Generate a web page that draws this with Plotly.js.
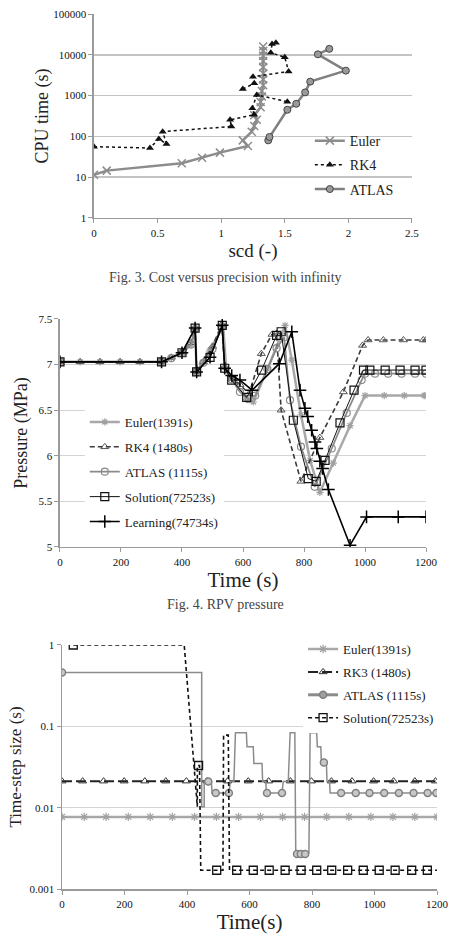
<!DOCTYPE html>
<html><head><meta charset="utf-8">
<script src="https://cdn.plot.ly/plotly-3.0.1.min.js"></script>
<style>html,body{margin:0;padding:0;background:#fff;}#chart{width:451px;height:936px;}</style>
</head><body><div id="chart"></div>
<script>
// ---------- Fig. 3 : cost versus precision ----------
const f3EulerScd = [0, 0.1, 0.69, 0.85, 0.99, 1.21, 1.17, 1.24, 1.26, 1.28, 1.26, 1.31, 1.31, 1.32, 1.32, 1.33, 1.33, 1.33, 1.33, 1.33, 1.33, 1.33, 1.33];
const f3EulerCpu = [11.5, 14.5, 22, 30, 40, 58, 80, 130, 180, 255, 330, 520, 700, 950, 1300, 1800, 2500, 3500, 5000, 7000, 9500, 12500, 16000];
const f3Rk4Scd = [0, 0.44, 0.51, 0.57, 0.54, 1.08, 1.07, 1.26, 1.245, 1.28, 1.52, null, 1.17, 1.26, 1.25, 1.53, 1.50, 1.39, 1.40, 1.43];
const f3Rk4Cpu = [56, 52, 87, 65, 131, 175, 255, 340, 490, 1040, 710, null, 1450, 2000, 2900, 3900, 8700, 11300, 18500, 19800];
const f3AtlasScd = [1.37, 1.38, 1.52, 1.59, 1.66, 1.70, 1.98, 1.76, 1.85];
const f3AtlasCpu = [80, 97, 450, 630, 1200, 2200, 4100, 10300, 14000];
const f3YTicks = [1, 10, 100, 1000, 10000, 100000];
const f3YTickText = ['1', '10', '100', '1000', '10000', '100000'];
const f3Names = ['Euler', 'RK4', 'ATLAS'];

// ---------- Fig. 4 : RPV pressure ----------
const f4EulerT = [0, 66, 131, 197, 262, 333, 365, 400, 430, 443, 448, 490, 535, 545, 563, 612, 634, 680, 738, 760, 790, 820, 852, 896, 951, 1000, 1063, 1129, 1194, 1200];
const f4EulerP = [7.03, 7.03, 7.03, 7.03, 7.03, 7.03, 7.07, 7.13, 7.22, 7.38, 6.92, 7.15, 7.42, 6.95, 6.85, 6.62, 6.59, 6.95, 7.43, 7.05, 6.45, 5.95, 5.60, 5.92, 6.33, 6.66, 6.66, 6.66, 6.66, 6.66];
const f4Rk4T = [0, 66, 131, 197, 262, 333, 365, 400, 430, 443, 448, 470, 500, 530, 540, 563, 590, 620, 660, 695, 710, 725, 790, 852, 929, 992, 1010, 1060, 1126, 1191, 1200];
const f4Rk4P = [7.03, 7.03, 7.03, 7.03, 7.03, 7.03, 7.08, 7.14, 7.24, 7.40, 6.92, 7.03, 7.20, 7.44, 6.97, 6.85, 6.78, 6.68, 7.12, 7.33, 7.34, 6.50, 5.72, 6.20, 6.70, 7.21, 7.27, 7.27, 7.27, 7.27, 7.27];
const f4AtlasT = [0, 333, 365, 400, 430, 443, 448, 470, 500, 532, 540, 563, 590, 618, 640, 680, 710, 735, 754, 790, 835, 891, 940, 989, 1000, 1033, 1076, 1120, 1164, 1200];
const f4AtlasP = [7.03, 7.03, 7.07, 7.13, 7.22, 7.39, 6.92, 7.02, 7.17, 7.42, 6.95, 6.84, 6.70, 6.62, 6.66, 6.95, 7.18, 7.30, 6.61, 6.10, 5.66, 6.08, 6.47, 6.83, 6.90, 6.90, 6.90, 6.90, 6.90, 6.90];
const f4SolT = [0, 333, 400, 443, 448, 492, 532, 540, 563, 612, 661, 710, 725, 765, 814, 840, 869, 918, 964, 995, 1016, 1066, 1115, 1164, 1200];
const f4SolP = [7.03, 7.03, 7.13, 7.40, 6.92, 7.08, 7.43, 6.96, 6.83, 6.64, 6.94, 7.32, 7.36, 6.39, 5.75, 5.72, 5.95, 6.36, 6.72, 6.94, 6.94, 6.94, 6.94, 6.94, 6.94];
const f4LearnT = [0, 333, 400, 443, 448, 492, 532, 540, 563, 590, 630, 719, 760, 787, 803, 812, 825, 836, 842, 852, 861, 880, 951, 1005, 1109, 1200];
const f4LearnP = [7.03, 7.03, 7.13, 7.40, 6.92, 7.08, 7.43, 6.96, 6.88, 6.83, 6.72, 7.01, 7.36, 6.72, 6.52, 6.43, 6.28, 6.15, 6.08, 5.94, 5.86, 5.63, 5.02, 5.33, 5.33, 5.33];
const f4Names = ['Euler(1391s)', 'RK4 (1480s)', 'ATLAS (1115s)', 'Solution(72523s)', 'Learning(74734s)'];

// ---------- Fig. 5 : time-step size ----------
const f5EulerT = [0, 71, 141, 212, 282, 353, 424, 494, 565, 635, 706, 776, 847, 918, 988, 1059, 1129, 1200];
const f5EulerDt = [0.0077, 0.0077, 0.0077, 0.0077, 0.0077, 0.0077, 0.0077, 0.0077, 0.0077, 0.0077, 0.0077, 0.0077, 0.0077, 0.0077, 0.0077, 0.0077, 0.0077, 0.0077];
const f5Rk3T = [0, 66, 133, 199, 265, 332, 398, 464, 530, 596, 661, 731, 798, 862, 928, 997, 1061, 1129, 1195];
const f5Rk3Dt = [0.0212, 0.0212, 0.0212, 0.0212, 0.0212, 0.0212, 0.0212, 0.0212, 0.0212, 0.0212, 0.0212, 0.0212, 0.0212, 0.0212, 0.0212, 0.0212, 0.0212, 0.0212, 0.0212];
const f5AtlasLineT = [0, 447, 447, 455, 455, 478, 480, 535, 538, 550, 555, 590, 592, 612, 614, 640, 642, 652, 654, 704, 708, 724, 730, 745, 748, 790, 794, 815, 817, 828, 830, 846, 848, 856, 858, 1200];
const f5AtlasLineDt = [0.46, 0.46, 0.0103, 0.0103, 0.021, 0.021, 0.0152, 0.0152, 0.021, 0.021, 0.0835, 0.0835, 0.056, 0.056, 0.035, 0.035, 0.021, 0.021, 0.0152, 0.0152, 0.021, 0.021, 0.0835, 0.0835, 0.0028, 0.0028, 0.0835, 0.0835, 0.056, 0.056, 0.036, 0.036, 0.021, 0.021, 0.0152, 0.0152];
const f5AtlasMarkT = [0, 468, 492, 534, 656, 704, 752, 764, 778, 838, 893, 940, 984, 1031, 1078, 1125, 1170, 1198];
const f5AtlasMarkDt = [0.46, 0.021, 0.0152, 0.0152, 0.0152, 0.0152, 0.0027, 0.0027, 0.0027, 0.036, 0.0152, 0.0152, 0.0152, 0.0152, 0.0152, 0.0152, 0.0152, 0.0152];
const f5SolLineT = [36, 391, 433, 433, 440, 444, 515, 517, 532, 536, 1200];
const f5SolLineDt = [1, 1, 0.0103, 0.033, 0.033, 0.0017, 0.0017, 0.078, 0.078, 0.0017, 0.0017];
const f5SolMarkT = [36, 437, 495, 559, 612, 663, 714, 765, 815, 863, 914, 964, 1015, 1066, 1119, 1169];
const f5SolMarkDt = [1, 0.033, 0.0017, 0.0017, 0.0017, 0.0017, 0.0017, 0.0017, 0.0017, 0.0017, 0.0017, 0.0017, 0.0017, 0.0017, 0.0017, 0.0017];
const f5YTicks = [0.001, 0.01, 0.1, 1];
const f5YTickText = ['0.001', '0.01', '0.1', '1'];
const f5Names = ['Euler(1391s)', 'RK3 (1480s)', 'ATLAS (1115s)', 'Solution(72523s)'];

const captions = ['Fig. 3. Cost versus precision with infinity', 'Fig. 4. RPV pressure'];

// ---------- styling ----------
const SERIF = 'Liberation Serif, Times New Roman, serif';
const tickFont = {family: SERIF, size: 11, color: '#111'};
const axBase = {showline: true, linecolor: '#9a9a9a', linewidth: 1.5, ticks: 'outside', ticklen: 4,
  tickcolor: '#9a9a9a', zeroline: false, tickfont: tickFont, fixedrange: true};
const legBase = {xanchor: 'left', yanchor: 'top', bgcolor: '#ffffff', borderwidth: 0,
  traceorder: 'grouped', itemwidth: 30};

const traces = [
  // Fig 3
  {x: f3EulerScd, y: f3EulerCpu, name: f3Names[0], xaxis: 'x', yaxis: 'y', legend: 'legend', legendgroup: 'a1',
   mode: 'lines+markers', line: {color: '#8c8c8c', width: 2.5},
   marker: {symbol: 'x-thin-open', size: 8, color: '#8c8c8c', line: {color: '#8c8c8c', width: 1.5}}},
  {x: f3Rk4Scd, y: f3Rk4Cpu, name: f3Names[1], xaxis: 'x', yaxis: 'y', legend: 'legend', legendgroup: 'a2',
   mode: 'lines+markers', line: {color: '#111', width: 1.5, dash: 'dot'},
   marker: {symbol: 'triangle-up', size: 7, color: '#111'}},
  {x: f3AtlasScd, y: f3AtlasCpu, name: f3Names[2], xaxis: 'x', yaxis: 'y', legend: 'legend', legendgroup: 'a3',
   mode: 'lines+markers', line: {color: '#808080', width: 2.5},
   marker: {symbol: 'circle', size: 7, color: '#9a9a9a', line: {color: '#444', width: 1}}},
  // Fig 4
  {x: f4EulerT, y: f4EulerP, name: f4Names[0], xaxis: 'x2', yaxis: 'y2', legend: 'legend2', legendgroup: 'b1',
   mode: 'lines+markers', line: {color: '#a8a8a8', width: 2.5},
   marker: {symbol: 'asterisk-open', size: 6, color: '#a0a0a0', line: {color: '#a0a0a0', width: 1.2}}},
  {x: f4Rk4T, y: f4Rk4P, name: f4Names[1], xaxis: 'x2', yaxis: 'y2', legend: 'legend2', legendgroup: 'b2',
   mode: 'lines+markers', line: {color: '#3a3a3a', width: 1.6, dash: '5px,3px'},
   marker: {symbol: 'triangle-up-open', size: 7, color: '#555', line: {color: '#555', width: 1}}},
  {x: f4AtlasT, y: f4AtlasP, name: f4Names[2], xaxis: 'x2', yaxis: 'y2', legend: 'legend2', legendgroup: 'b3',
   mode: 'lines+markers', line: {color: '#8a8a8a', width: 1.8},
   marker: {symbol: 'circle-open', size: 7, color: '#8a8a8a', line: {color: '#8a8a8a', width: 1.2}}},
  {x: f4SolT, y: f4SolP, name: f4Names[3], xaxis: 'x2', yaxis: 'y2', legend: 'legend2', legendgroup: 'b4',
   mode: 'lines+markers', line: {color: '#111', width: 1},
   marker: {symbol: 'square-open', size: 8, color: '#111', line: {color: '#111', width: 1.2}}},
  {x: f4LearnT, y: f4LearnP, name: f4Names[4], xaxis: 'x2', yaxis: 'y2', legend: 'legend2', legendgroup: 'b5',
   mode: 'lines+markers', line: {color: '#000', width: 1.6},
   marker: {symbol: 'cross-thin-open', size: 9, color: '#000', line: {color: '#000', width: 1.5}}},
  // Fig 5
  {x: f5EulerT, y: f5EulerDt, name: f5Names[0], xaxis: 'x3', yaxis: 'y3', legend: 'legend3', legendgroup: 'c1',
   mode: 'lines+markers', line: {color: '#a8a8a8', width: 2.5},
   marker: {symbol: 'asterisk-open', size: 7, color: '#a0a0a0', line: {color: '#a0a0a0', width: 1.2}}},
  {x: f5Rk3T, y: f5Rk3Dt, name: f5Names[1], xaxis: 'x3', yaxis: 'y3', legend: 'legend3', legendgroup: 'c2',
   mode: 'lines+markers', line: {color: '#222', width: 2, dash: '10px,4px'},
   marker: {symbol: 'triangle-up-open', size: 7, color: '#333', line: {color: '#333', width: 1}}},
  {x: f5AtlasLineT, y: f5AtlasLineDt, xaxis: 'x3', yaxis: 'y3', legendgroup: 'c3', showlegend: false,
   mode: 'lines', line: {color: '#8c8c8c', width: 1.5}},
  {x: f5AtlasMarkT, y: f5AtlasMarkDt, xaxis: 'x3', yaxis: 'y3', legendgroup: 'c3', showlegend: false,
   mode: 'markers', marker: {symbol: 'circle', size: 7, color: '#c8c8c8', line: {color: '#808080', width: 1.5}}},
  {x: [null], y: [null], name: f5Names[2], xaxis: 'x3', yaxis: 'y3', legend: 'legend3', legendgroup: 'c3',
   mode: 'lines+markers', line: {color: '#8c8c8c', width: 3},
   marker: {symbol: 'circle', size: 7, color: '#a0a0a0', line: {color: '#808080', width: 1.5}}},
  {x: f5SolLineT, y: f5SolLineDt, xaxis: 'x3', yaxis: 'y3', legendgroup: 'c4', showlegend: false,
   mode: 'lines', line: {color: '#111', width: 1.6, dash: '4px,3px'}},
  {x: f5SolMarkT, y: f5SolMarkDt, xaxis: 'x3', yaxis: 'y3', legendgroup: 'c4', showlegend: false,
   mode: 'markers', marker: {symbol: 'square-open', size: 8, color: '#111', line: {color: '#111', width: 1.3}}},
  {x: [null], y: [null], name: f5Names[3], xaxis: 'x3', yaxis: 'y3', legend: 'legend3', legendgroup: 'c4',
   mode: 'lines+markers', line: {color: '#111', width: 1.6, dash: '4px,3px'},
   marker: {symbol: 'square-open', size: 8, color: '#111', line: {color: '#111', width: 1.3}}}
];

const layout = {
  width: 451, height: 936, autosize: false,
  margin: {l: 0, r: 0, t: 0, b: 0},
  paper_bgcolor: '#fff', plot_bgcolor: '#fff',
  font: {family: SERIF, color: '#222'},
  // Fig 3 axes
  xaxis: Object.assign({}, axBase, {domain: [0.2084, 0.9135], anchor: 'y', range: [0, 2.5], dtick: 0.5, showgrid: false,
    title: {text: 'scd (-)', font: {family: SERIF, size: 19, color: '#222'}, standoff: 6}}),
  yaxis: Object.assign({}, axBase, {domain: [0.7671, 0.985], anchor: 'x', type: 'log', range: [0, 5],
    tickmode: 'array', tickvals: f3YTicks, ticktext: f3YTickText, showgrid: true, gridcolor: '#c4c4c4', gridwidth: 1.5,
    title: {text: 'CPU time (s)', font: {family: SERIF, size: 18, color: '#222'}, standoff: 0}}),
  // Fig 4 axes
  xaxis2: Object.assign({}, axBase, {domain: [0.1330, 0.9446], anchor: 'y2', range: [0, 1200], dtick: 200, showgrid: false,
    title: {text: 'Time (s)', font: {family: SERIF, size: 21, color: '#222'}, standoff: 4}}),
  yaxis2: Object.assign({}, axBase, {domain: [0.4156, 0.6592], anchor: 'x2', range: [5, 7.5], dtick: 0.5, tick0: 5,
    showgrid: true, gridcolor: '#d4d4d4', gridwidth: 1,
    title: {text: 'Pressure (MPa)', font: {family: SERIF, size: 18, color: '#222'}, standoff: 6}}),
  // Fig 5 axes
  xaxis3: Object.assign({}, axBase, {domain: [0.1375, 0.9690], anchor: 'y3', range: [0, 1200], dtick: 200, showgrid: false,
    title: {text: 'Time(s)', font: {family: SERIF, size: 21, color: '#222'}, standoff: 4}}),
  yaxis3: Object.assign({}, axBase, {domain: [0.0502, 0.3109], anchor: 'x3', type: 'log', range: [-3, 0],
    tickmode: 'array', tickvals: f5YTicks, ticktext: f5YTickText, showgrid: true, gridcolor: '#d4d4d4', gridwidth: 1,
    title: {text: 'Time-step size (s)', font: {family: SERIF, size: 17, color: '#222'}, standoff: 3}}),
  legend: Object.assign({}, legBase, {x: 0.687, y: 0.8664, bgcolor: 'rgba(255,255,255,0)', tracegroupgap: 3,
    font: {family: SERIF, size: 14, color: '#222'}}),
  legend2: Object.assign({}, legBase, {x: 0.188, y: 0.5652, tracegroupgap: 5,
    font: {family: SERIF, size: 13, color: '#222'}}),
  legend3: Object.assign({}, legBase, {x: 0.672, y: 0.3226, tracegroupgap: 3,
    font: {family: SERIF, size: 13, color: '#222'}}),
  annotations: [
    {text: captions[0], xref: 'paper', yref: 'paper', x: 0.5, y: 0.704, xanchor: 'center', yanchor: 'middle',
     showarrow: false, font: {family: SERIF, size: 14, color: '#444'}},
    {text: captions[1], xref: 'paper', yref: 'paper', x: 0.5, y: 0.3547, xanchor: 'center', yanchor: 'middle',
     showarrow: false, font: {family: SERIF, size: 14, color: '#444'}}
  ]
};

Plotly.newPlot('chart', traces, layout, {displayModeBar: false, staticPlot: true});
</script>
</body></html>
